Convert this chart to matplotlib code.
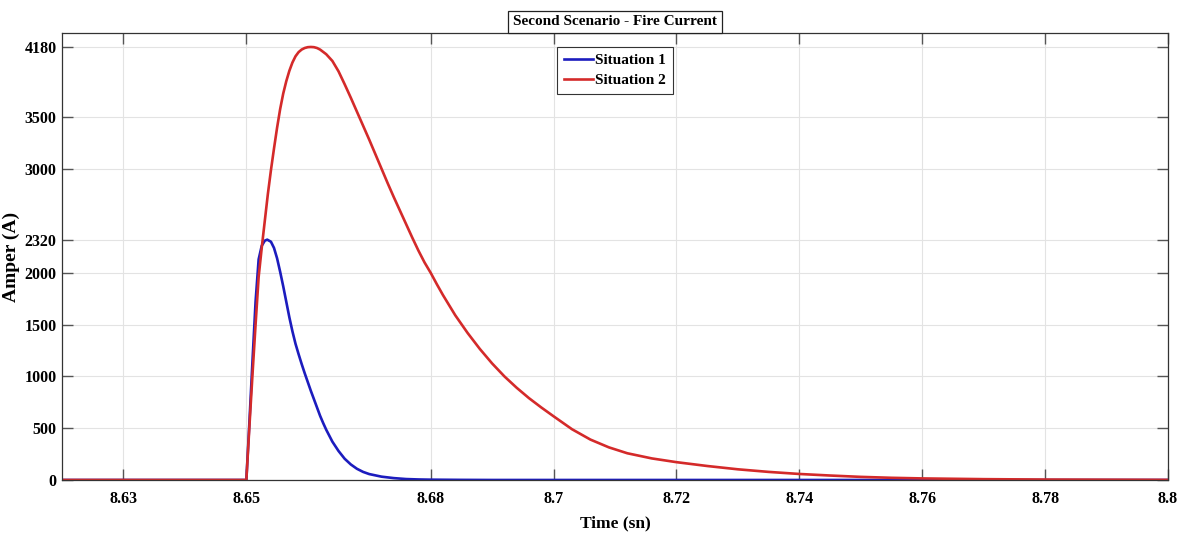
import numpy as np
import matplotlib
matplotlib.use('Agg')
import matplotlib.pyplot as plt

# values
t_sit1 = [8.62, 8.65, 8.6505, 8.651, 8.6515, 8.652, 8.6525, 8.653, 8.6534,
          8.654, 8.6545, 8.655, 8.6555, 8.656, 8.6565, 8.657, 8.6575, 8.658,
          8.6585, 8.659, 8.6595, 8.66, 8.6605, 8.661, 8.6615, 8.662, 8.6625,
          8.663, 8.664, 8.665, 8.666, 8.667, 8.668, 8.669, 8.67, 8.672,
          8.674, 8.676, 8.678, 8.68, 8.685, 8.69, 8.8]
i_sit1 = [0, 0, 560, 1150, 1720, 2130, 2260, 2310, 2320,
          2300, 2240, 2140, 2010, 1870, 1720, 1570, 1435, 1315,
          1215, 1120, 1030, 945, 860, 780, 700, 620, 550,
          485, 370, 280, 205, 150, 108, 78, 57, 32,
          18, 9, 5, 3, 1, 0, 0]

t_sit2 = [8.62, 8.65, 8.6505, 8.651, 8.6515, 8.652, 8.6525, 8.653, 8.6535,
          8.654, 8.6545, 8.655, 8.6555, 8.656, 8.6565, 8.657, 8.6575, 8.658,
          8.6585, 8.659, 8.6595, 8.66, 8.6605, 8.661, 8.6615, 8.662, 8.663,
          8.664, 8.665, 8.666, 8.667, 8.668, 8.669, 8.67, 8.671, 8.672,
          8.673, 8.674, 8.675, 8.676, 8.677, 8.678, 8.679, 8.68, 8.681,
          8.682, 8.684, 8.686, 8.688, 8.69, 8.692, 8.694, 8.696, 8.698,
          8.7, 8.703, 8.706, 8.709, 8.712, 8.716, 8.72, 8.725, 8.73,
          8.735, 8.74, 8.745, 8.75, 8.755, 8.76, 8.77, 8.78, 8.8]
i_sit2 = [0, 0, 520, 1020, 1500, 1960, 2240, 2500, 2760,
          2990, 3200, 3400, 3580, 3730, 3850, 3950, 4030, 4090,
          4130, 4155, 4170, 4178, 4180, 4178, 4170, 4155, 4110,
          4045, 3945, 3820, 3690, 3555, 3420, 3285, 3145, 3005,
          2865, 2730, 2600, 2470, 2340, 2215, 2100, 2000, 1890,
          1785, 1590, 1420, 1265, 1125, 1000, 890, 790, 700,
          615, 490, 390, 315, 258, 208, 172, 135, 103,
          78, 58, 43, 30, 21, 15, 8, 4, 1]

x_ticks = [8.63, 8.65, 8.68, 8.7, 8.72, 8.74, 8.76, 8.78, 8.8]
x_labels = ['8.63', '8.65', '8.68', '8.7', '8.72', '8.74', '8.76', '8.78', '8.8']
y_ticks = [0, 500, 1000, 1500, 2000, 2320, 3000, 3500, 4180]

plt.rcParams['font.family'] = ['Liberation Serif', 'DejaVu Serif']
plt.rcParams['font.weight'] = 'bold'

fig = plt.figure(figsize=(11.86, 5.39), dpi=100)
ax = fig.add_axes([0.0523, 0.1095, 0.9325, 0.8293])

ax.plot(t_sit1, i_sit1, color='#1c1cbe', lw=1.9, label='Situation 1')
ax.plot(t_sit2, i_sit2, color='#d42a2a', lw=1.9, label='Situation 2')

ax.set_xlim(8.62, 8.8)
ax.set_ylim(0, 4315)
ax.set_xticks(x_ticks)
ax.set_xticklabels(x_labels)
ax.set_yticks(y_ticks)

ax.grid(True, color='#e3e3e3', lw=0.8)
ax.set_axisbelow(True)
ax.tick_params(direction='in', top=True, right=True, length=8, width=1,
               color='#555555', labelsize=11.5)
ax.tick_params(axis='y', pad=4)
ax.tick_params(axis='x', pad=8)
for lab in ax.get_xticklabels() + ax.get_yticklabels():
    lab.set_fontweight('bold')
for s in ax.spines.values():
    s.set_color('#333333')
    s.set_linewidth(0.9)

ax.set_xlabel('Time (sn)', fontsize=12.5, fontweight='bold', labelpad=6)
ax.set_ylabel('Amper (A)', fontsize=14, fontweight='bold', labelpad=3)

ax.annotate('Second Scenario - Fire Current', xy=(0.5, 1.0), xycoords='axes fraction',
            xytext=(0, 3.5), textcoords='offset points', ha='center', va='bottom',
            fontsize=11, fontweight='bold',
            bbox=dict(boxstyle='square,pad=0.3', facecolor='white', edgecolor='#222222', lw=0.9))

leg = ax.legend(loc='upper center', bbox_to_anchor=(0.5, 0.986),
                prop={'weight': 'bold', 'size': 11},
                fancybox=False, framealpha=1, edgecolor='#333333',
                handlelength=1.9, handletextpad=0.1, borderpad=0.45,
                labelspacing=0.4, borderaxespad=0.5)
leg.get_frame().set_linewidth(0.8)

fig.savefig('out.png', dpi=100)
